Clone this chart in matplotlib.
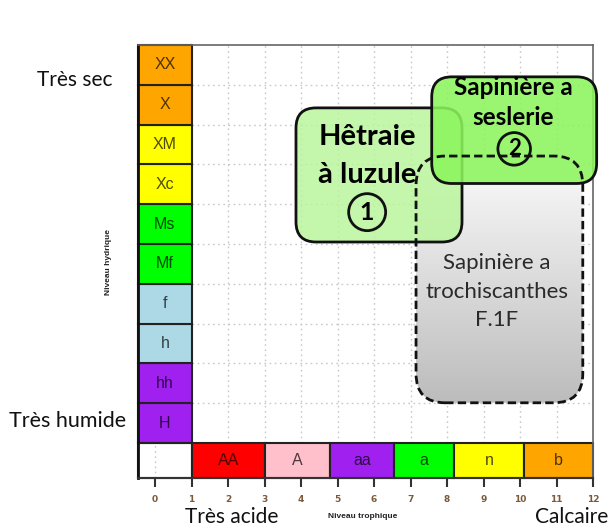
import matplotlib
matplotlib.use("Agg")
import matplotlib.pyplot as plt
import numpy as np
from matplotlib.patches import Rectangle, FancyBboxPatch

# ---------------- data ----------------
hydric_labels = ["H", "hh", "h", "f", "Mf", "Ms", "Xc", "XM", "X", "XX"]
hydric_colors = ["#a020f0", "#a020f0", "#add8e6", "#add8e6", "#00ff00", "#00ff00",
                 "#ffff00", "#ffff00", "#ffa500", "#ffa500"]
trophic_labels = ["AA", "A", "aa", "a", "n", "b"]
trophic_edges = [1.0, 3.0, 4.8, 6.55, 8.2, 10.1, 12.0]
trophic_colors = ["#ff0000", "#ffc0cb", "#a020f0", "#00ff00", "#ffff00", "#ffa500"]
x_ticks = list(range(0, 13))

# vegetation units: (x0, x1, y0, y1) in trophic / hydric units
hetraie = (3.86, 8.41, 6.05, 9.42)
seslerie = (7.58, 12.10, 7.52, 10.20)
trochis = (7.15, 11.72, 2.01, 8.21)

W, H = 614, 531
fig = plt.figure(figsize=(W / 100, H / 100), dpi=100)
L, R, T, B = 138, 593, 45, 478
ax = fig.add_axes([L / W, 1 - B / H, (R - L) / W, (B - T) / H])
ax.set_xlim(-0.47, 12.0)
ax.set_ylim(0.12, 11.0)

def fx(px):
    return px / W

def fy(py):
    return 1 - py / H

# grid
gcol = "#c8c8c8"
gls = (0, (1.2, 2.5))
for x in range(2, 13):
    ax.plot([x, x], [1, 11], color=gcol, ls=gls, lw=1, zorder=0)
ax.plot([0, 0], [0.12, 1], color=gcol, ls=gls, lw=1, zorder=0)
for y in range(2, 11):
    ax.plot([1, 12], [y, y], color=gcol, ls=gls, lw=1, zorder=0)

# left column (hydric)
for i, (lab, col) in enumerate(zip(hydric_labels, hydric_colors)):
    y0 = 1 + i
    ax.add_patch(Rectangle((-0.47, y0), 1.47, 1, fc=col, ec="#222222", lw=1.5,
                           zorder=2, clip_on=False))
    ax.text(0.265, y0 + 0.5, lab, ha="center", va="center", fontsize=11.5,
            family="Liberation Sans", color="black", alpha=0.7, zorder=3)

# bottom bar (trophic)
ax.add_patch(Rectangle((-0.47, 0.12), 1.47, 0.88, fc="none", ec="#222222", lw=1.5,
                       zorder=2, clip_on=False))
for i, (lab, col) in enumerate(zip(trophic_labels, trophic_colors)):
    x0, x1 = trophic_edges[i], trophic_edges[i + 1]
    ax.add_patch(Rectangle((x0, 0.12), x1 - x0, 0.88, fc=col, ec="#222222", lw=1.5,
                           zorder=2, clip_on=False))
    ax.text((x0 + x1) / 2, 0.56, lab, ha="center", va="center", fontsize=11.5,
            family="Liberation Sans", color="black", alpha=0.7, zorder=3)

# spines / ticks
for s in ["top", "right"]:
    ax.spines[s].set_color("#666666")
    ax.spines[s].set_linewidth(1.2)
ax.spines["left"].set_color("#111111")
ax.spines["left"].set_linewidth(2)
ax.spines["bottom"].set_color("#333333")
ax.spines["bottom"].set_linewidth(1.5)
ax.set_xticks(x_ticks)
ax.set_xticklabels([str(t) for t in x_ticks], fontsize=6.5, fontweight="bold",
                   color="#7a5a3a", family="DejaVu Sans")
ax.tick_params(axis="x", length=6.5, width=1.5, color="#333333", pad=6)
ax.set_yticks([])

# rounded boxes
asp = (36.49 / 39.8)

def rbox(b, r, **kw):
    x0, x1, y0, y1 = b
    p = FancyBboxPatch((x0, y0), x1 - x0, y1 - y0,
                       boxstyle=f"round,pad=0,rounding_size={r}",
                       mutation_aspect=asp, clip_on=False, **kw)
    ax.add_patch(p)
    return p

# gray gradient box
gp = rbox(trochis, 0.8, fc="none", ec="none", zorder=3)
x0, x1, y0, y1 = trochis
grad = np.linspace(0, 1, 256).reshape(-1, 1)
im = ax.imshow(grad, extent=(x0, x1, y0, y1), origin="upper", aspect="auto",
               cmap=matplotlib.colors.LinearSegmentedColormap.from_list(
                   "g", ["#fbfbfb", "#bcbcbc"]), zorder=3)
im.set_clip_path(gp)
ax.set_xlim(-0.47, 12.0)
ax.set_ylim(0.12, 11.0)

rbox(hetraie, 0.55, fc=(0.72, 0.96, 0.60, 0.82), ec="#111111", lw=2, zorder=4)
rbox(seslerie, 0.55, fc=(0.55, 0.96, 0.36, 0.88), ec="#111111", lw=2, zorder=5)
rbox(trochis, 0.8, fc="none", ec="#111111", lw=2, ls=(0, (3, 1.5)), zorder=6)

fam = ["Lato", "DejaVu Sans"]
# Hêtraie text
ax.text(5.81, 8.69, "Hêtraie", ha="center", va="center", fontsize=21,
        fontweight="bold", family=fam, zorder=8)
ax.text(5.81, 7.73, "à luzule", ha="center", va="center", fontsize=21,
        fontweight="bold", family=fam, zorder=8)
ax.text(5.81, 6.80, "1", ha="center", va="center", fontsize=18,
        fontweight="bold", family=fam, zorder=8,
        bbox=dict(boxstyle="circle,pad=0.28", fc="none", ec="#111111", lw=2))
# Seslerie text
ax.text(9.81, 9.94, "Sapinière a", ha="center", va="center", fontsize=17.5,
        fontweight="bold", family=fam, zorder=8)
ax.text(9.81, 9.17, "seslerie", ha="center", va="center", fontsize=17.5,
        fontweight="bold", family=fam, zorder=8)
ax.text(9.84, 8.39, "2", ha="center", va="center", fontsize=16,
        fontweight="bold", family=fam, zorder=8,
        bbox=dict(boxstyle="circle,pad=0.26", fc="none", ec="#111111", lw=2))
# Trochiscanthes text
for yy, t in zip([5.52, 4.79, 4.09], ["Sapinière a", "trochiscanthes", "F.1F"]):
    ax.text(9.37, yy, t, ha="center", va="center", fontsize=16, family=fam,
            color="#2a2a2a", zorder=8)

# axis titles (small)
fig.text(fx(363), fy(517), "Niveau trophique", ha="center", va="center",
         fontsize=6, fontweight="bold", family="Liberation Sans", color="#222222")
fig.text(fx(108), fy(262), "Niveau hydrique", ha="center", va="center",
         rotation=90, fontsize=6, fontweight="bold", family="Liberation Sans",
         color="#222222")

# outer annotations
fig.text(fx(75), fy(80), "Très sec", ha="center", va="center", fontsize=15,
         family=fam, color="#111111")
fig.text(fx(68), fy(421), "Très humide", ha="center", va="center", fontsize=15.5,
         family=fam, color="#111111")
fig.text(fx(232), fy(517), "Très acide", ha="center", va="center", fontsize=15,
         family=fam, color="#111111")
fig.text(fx(535), fy(517), "Calcaire", ha="left", va="center", fontsize=15,
         family=fam, color="#111111")

fig.savefig("out.png", dpi=100)
